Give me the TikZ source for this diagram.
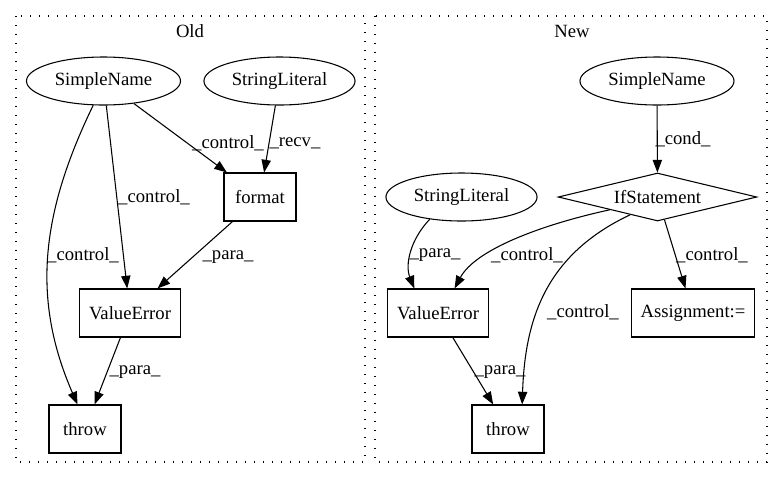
\documentclass[tikz,border=0pt]{standalone}
\usepackage{fontspec}
\setmainfont{Liberation Serif}
\usetikzlibrary{arrows.meta,shapes.geometric}

\begin{document}
\begin{tikzpicture}[x=0.75pt,y=-0.75pt,>={Triangle[length=9.5pt,width=7pt]},line width=0.8pt,
    box/.style={draw,font=\fontsize{14}{16}\selectfont,minimum width=54pt,minimum height=36pt,inner xsep=7pt},
    oval/.style={draw,ellipse,font=\fontsize{14}{16}\selectfont,minimum height=36pt,inner sep=4.3pt},
    cond/.style={draw,diamond,font=\fontsize{14}{16}\selectfont,shape aspect=4,inner sep=1pt,minimum width=149pt,minimum height=36pt},
    lbl/.style={font=\fontsize{14}{16}\selectfont,inner sep=0pt},
    cluster/.style={draw,dash pattern=on 1pt off 5.75pt}]
  \useasboundingbox (0,0) rectangle (783,480);

  % Old
  \draw[cluster] (16,16) rectangle (365,462);
  \node[lbl] (old) at (190,31) {Old};
  \node[oval] (sn1) at (103.5,81) {SimpleName};
  \node[oval] (sl1) at (279.5,81) {StringLiteral};
  \node[box] (fm1) at (260,197) {format};
  \node[box] (ve1) at (130,313) {ValueError};
  \node[box] (th1) at (85,429) {throw};
  \draw[->] (sn1) -- (fm1);
  \draw[->] (sl1) -- (fm1);
  \draw[->] (sn1) -- (ve1);
  \draw[->] (sn1.-113) .. controls (40,215) and (32,300) .. (th1.107);
  \draw[->] (fm1) -- (ve1);
  \draw[->] (ve1) -- (th1);
  \node[lbl] (l1) at (228,143) {\_control\_};
  \node[lbl] (l2) at (295,143) {\_recv\_};
  \node[lbl] (l3) at (154,197) {\_control\_};
  \node[lbl] (l4) at (83,255) {\_control\_};
  \node[lbl] (l5) at (228,257) {\_para\_};
  \node[lbl] (l6) at (135,372) {\_para\_};

  % New
  \draw[cluster] (375,16) rectangle (767,462);
  \node[lbl] (new) at (572,31) {New};
  \node[oval] (sn2) at (657,81) {SimpleName};
  \node[cond] (if2) at (657.5,197) {IfStatement};
  \node[oval] (sl2) at (461.5,197) {StringLiteral};
  \node[box] (ve2) at (438,313) {ValueError};
  \node[box] (as2) at (693,313) {Assignment:=};
  \node[box] (th2) at (508,429) {throw};
  \draw[->] (sn2) -- (if2);
  \draw[->] (sl2.-145) .. controls (410,240) and (405,265) .. (ve2.134);
  \draw[->] (if2.-165) .. controls (540,225) and (475,250) .. (ve2.56);
  \draw[->] (if2.-147) .. controls (545,255) and (525,320) .. (th2.60);
  \draw[->] (if2) -- (as2);
  \draw[->] (ve2) -- (th2);
  \node[lbl] (l7) at (683,139) {\_cond\_};
  \node[lbl] (l8) at (435,255) {\_para\_};
  \node[lbl] (l9) at (527,255) {\_control\_};
  \node[lbl] (l10) at (583,312) {\_control\_};
  \node[lbl] (l11) at (712,255) {\_control\_};
  \node[lbl] (l12) at (500,372) {\_para\_};
\end{tikzpicture}
\end{document}
